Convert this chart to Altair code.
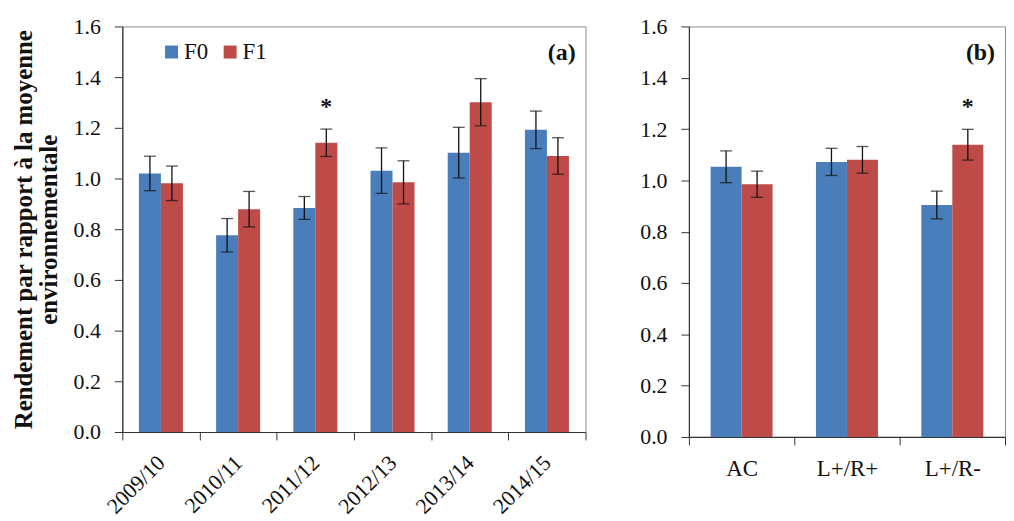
import altair as alt
import pandas as pd

series = ["F0", "F1"]
colors = ["#4A7EBB", "#BE4B48"]

# Panel (a): by season
years = ["2009/10", "2010/11", "2011/12", "2012/13", "2013/14", "2014/15"]
a_f0 = [1.020, 0.776, 0.884, 1.031, 1.102, 1.192]
a_f0_err = [0.068, 0.066, 0.045, 0.090, 0.100, 0.074]
a_f1 = [0.981, 0.879, 1.141, 0.985, 1.301, 1.089]
a_f1_err = [0.068, 0.070, 0.054, 0.085, 0.093, 0.072]
a_f1_star = ["", "", "*", "", "", ""]

# Panel (b): by group
groups = ["AC", "L+/R+", "L+/R-"]
b_f0 = [1.053, 1.072, 0.904]
b_f0_err = [0.062, 0.053, 0.054]
b_f1 = [0.985, 1.080, 1.139]
b_f1_err = [0.051, 0.052, 0.060]
b_f1_star = ["", "", "*"]

y_ticks = [0.0, 0.2, 0.4, 0.6, 0.8, 1.0, 1.2, 1.4, 1.6]
y_title = ["Rendement par rapport à la  moyenne", "environnementale"]

FONT = "Liberation Serif, Times New Roman, serif"


def make_df(cats, f0, f0e, f1, f1e, st):
    rows = []
    for i, c in enumerate(cats):
        rows.append(dict(cat=c, series="F0", value=f0[i], lo=f0[i] - f0e[i], hi=f0[i] + f0e[i], star=""))
        rows.append(dict(cat=c, series="F1", value=f1[i], lo=f1[i] - f1e[i], hi=f1[i] + f1e[i], star=st[i]))
    return pd.DataFrame(rows)


def panel(df, cats, w, h, opad, xaxis, yaxis, ytitle, legend, tag):
    base = alt.Chart(df)
    x = alt.X("cat:N", sort=cats, scale=alt.Scale(paddingInner=0, paddingOuter=0), axis=xaxis)
    xo = alt.XOffset("series:N", sort=series, scale=alt.Scale(paddingInner=0, paddingOuter=opad))
    ys = alt.Scale(domain=[0, 1.6], nice=False, zero=True)
    bars = base.mark_bar().encode(
        x=x, xOffset=xo,
        y=alt.Y("value:Q", scale=ys, axis=yaxis, title=ytitle),
        color=alt.Color("series:N", scale=alt.Scale(domain=series, range=colors), legend=legend),
    )
    err = base.mark_rule(color="#111", strokeWidth=1.3).encode(
        x=x, xOffset=xo, y=alt.Y("lo:Q", scale=ys, axis=yaxis, title=ytitle), y2="hi:Q"
    )
    cap_hi = base.mark_tick(color="#111", size=12, thickness=1.3).encode(
        x=x, xOffset=xo, y=alt.Y("hi:Q", scale=ys, axis=yaxis, title=ytitle)
    )
    cap_lo = base.mark_tick(color="#111", size=12, thickness=1.3).encode(
        x=x, xOffset=xo, y=alt.Y("lo:Q", scale=ys, axis=yaxis, title=ytitle)
    )
    star = base.mark_text(font=FONT, fontSize=24, fontWeight="bold", color="#111", baseline="middle", dy=-22).encode(
        x=x, xOffset=xo, y=alt.Y("hi:Q", scale=ys, axis=yaxis, title=ytitle), text="star:N"
    )
    tagc = alt.Chart(pd.DataFrame({"t": [tag]})).mark_text(
        font=FONT, fontSize=24, fontWeight="bold", color="#111", align="right", baseline="middle"
    ).encode(x=alt.value(w - 10), y=alt.value(27), text="t:N")
    return alt.layer(bars, err, cap_hi, cap_lo, star, tagc).properties(width=w, height=h)


df_a = make_df(years, a_f0, a_f0_err, a_f1, a_f1_err, a_f1_star)
df_b = make_df(groups, b_f0, b_f0_err, b_f1, b_f1_err, b_f1_star)

yaxis_common = dict(values=y_ticks, format=".1f", tickSize=8, labelPadding=14, labelFontSize=22,
                    labelFont=FONT, labelColor="#111", grid=False)

left_y = alt.Axis(**yaxis_common, titleFontSize=25, titleFont=FONT, titleFontWeight="bold",
                  titleLineHeight=25, titlePadding=12, titleColor="#111")
right_y = alt.Axis(**yaxis_common)

left_x = alt.Axis(title=None, labelAngle=-45, labelAlign="right", labelBaseline="middle",
                  labelFontSize=22, labelFont=FONT, labelColor="#111",
                  tickBand="extent", tickSize=8, labelPadding=19)
right_x = alt.Axis(title=None, labelAngle=0, labelFontSize=23, labelFont=FONT, labelColor="#111",
                   tickBand="extent", tickSize=8, labelPadding=13)

legend = alt.Legend(title=None, orient="none", legendX=38, legendY=14, direction="horizontal",
                    symbolType="square", symbolSize=170, symbolStrokeWidth=0,
                    labelFontSize=23, labelFont=FONT, labelColor="#111", columnPadding=10, labelOffset=1)

left = panel(df_a, years, 466, 408, 0.755, left_x, left_y, y_title, legend, "(a)")
right = panel(df_b, groups, 318, 413, 0.70, right_x, right_y, None, None, "(b)")

chart = alt.hconcat(left, right, spacing=53).resolve_legend(color="independent").resolve_scale(
    xOffset="independent", x="independent"
).properties(
    padding={"left": 3, "top": 5, "right": 0, "bottom": 0}
).configure(font=FONT).configure_view(stroke="#8c8c8c", strokeWidth=1).configure_axis(
    domainColor="#333", tickColor="#333", domainWidth=1.2
)

chart.save("out.html", embed_options={"renderer": "svg", "actions": False})
